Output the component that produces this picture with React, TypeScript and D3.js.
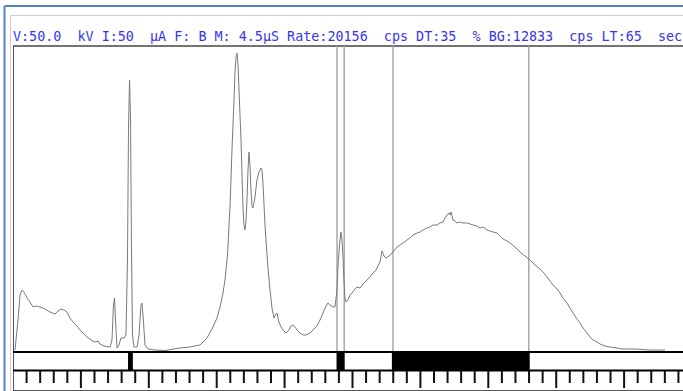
import React from "react";
import * as d3 from "d3";

const headerText =
  "V:50.0  kV I:50  \u00b5A F: B M: 4.5\u00b5S Rate:20156  cps DT:35  % BG:12833  cps LT:65  sec";

// Spectrum: energy (keV) and counts
const energy = [
  0.029, 0.074, 0.103, 0.133, 0.162, 0.206, 0.25, 0.295, 0.339, 0.398, 0.471, 0.545, 0.619, 0.663, 0.707,
  0.751, 0.795, 0.839, 0.884, 0.943, 0.987, 1.046, 1.09, 1.149, 1.208, 1.252, 1.281, 1.34, 1.429, 1.458,
  1.48, 1.495, 1.517, 1.532, 1.561, 1.59, 1.635, 1.664, 1.686, 1.701, 1.716, 1.731, 1.745, 1.76, 1.782,
  1.826, 1.856, 1.885, 1.9, 1.915, 1.944, 1.988, 2.091, 2.239, 2.459, 2.607, 2.754, 2.857, 2.945, 3.004,
  3.049, 3.093, 3.122, 3.152, 3.166, 3.181, 3.196, 3.21, 3.225, 3.24, 3.255, 3.269, 3.284, 3.299, 3.314,
  3.329, 3.343, 3.358, 3.373, 3.387, 3.402, 3.417, 3.431, 3.446, 3.461, 3.476, 3.49, 3.505, 3.52, 3.535,
  3.564, 3.593, 3.623, 3.652, 3.667, 3.682, 3.697, 3.711, 3.726, 3.755, 3.785, 3.814, 3.844, 3.873, 3.888,
  3.917, 3.947, 3.991, 4.021, 4.065, 4.094, 4.124, 4.153, 4.183, 4.227, 4.271, 4.315, 4.374, 4.433, 4.477,
  4.521, 4.565, 4.61, 4.639, 4.669, 4.713, 4.742, 4.772, 4.786, 4.808, 4.83, 4.845, 4.86, 4.874, 4.889,
  4.904, 4.933, 4.963, 4.993, 5.037, 5.066, 5.11, 5.155, 5.214, 5.258, 5.302, 5.346, 5.376, 5.405, 5.435,
  5.464, 5.494, 5.523, 5.552, 5.596, 5.655, 5.7, 5.744, 5.803, 5.847, 5.891, 5.95, 5.994, 6.038, 6.097,
  6.141, 6.186, 6.245, 6.289, 6.333, 6.362, 6.392, 6.421, 6.436, 6.451, 6.48, 6.51, 6.539, 6.583, 6.627,
  6.686, 6.731, 6.775, 6.833, 6.878, 6.922, 6.981, 7.025, 7.069, 7.128, 7.172, 7.217, 7.276, 7.32, 7.394,
  7.467, 7.541, 7.614, 7.688, 7.761, 7.806, 7.865, 7.909, 7.953, 8.012, 8.056, 8.1, 8.159, 8.203, 8.247,
  8.306, 8.351, 8.395, 8.454, 8.498, 8.542, 8.601, 8.645, 8.719, 8.792, 8.895, 8.984, 9.161, 9.382, 9.602,
];
const counts = [
  10, 310, 560, 610, 590, 530, 490, 440, 450, 440, 420, 390, 370, 400, 420,
  410, 390, 330, 290, 250, 210, 170, 140, 110, 90, 100, 70, 50, 40, 110,
  460, 530, 210, 30, 60, 130, 130, 160, 910, 2210, 2710, 2310, 1010, 160, 40,
  40, 160, 460, 480, 360, 60, 20, 10, 5, 30, 40, 60, 130, 240, 330,
  440, 580, 710, 910, 1040, 1260, 1440, 1710, 2010, 2260, 2510, 2780, 2930, 2980, 2860,
  2610, 2360, 2110, 1760, 1440, 1260, 1210, 1290, 1510, 1810, 1990, 1860, 1610, 1440, 1430,
  1540, 1710, 1790, 1830, 1810, 1680, 1460, 1260, 1110, 830, 610, 430, 330, 370, 380,
  290, 240, 200, 180, 210, 250, 260, 240, 210, 180, 160, 160, 180, 220, 250,
  310, 380, 450, 480, 460, 440, 440, 610, 840, 1060, 1190, 1110, 940, 710, 530,
  490, 510, 560, 580, 620, 640, 630, 670, 710, 740, 780, 810, 850, 890, 1000,
  950, 930, 940, 960, 990, 1040, 1060, 1080, 1110, 1130, 1160, 1180, 1190, 1210, 1230,
  1240, 1260, 1260, 1280, 1290, 1330, 1360, 1380, 1360, 1390, 1310, 1300, 1280, 1290, 1280,
  1280, 1270, 1260, 1250, 1230, 1240, 1210, 1200, 1190, 1180, 1150, 1120, 1100, 1080, 1040,
  990, 950, 910, 860, 820, 790, 740, 700, 660, 620, 580, 530, 480, 430, 380,
  320, 280, 230, 180, 140, 110, 90, 70, 50, 40, 30, 20, 20, 10, 10,
];

// Region-of-interest bands (keV)
const roiStart = [1.694, 4.765, 5.58];
const roiEnd = [1.765, 4.885, 7.61];
// Marker lines (keV)
const markerLines = [4.772, 4.878, 5.596, 7.596];

const W = 683;
const H = 391;
const plotLeft = 13;
const plotTop = 46;
const plotBottom = 351;

export default function App() {
  const x = d3.scaleLinear().domain([0, 670 / 67.9]).range([plotLeft, W]);
  const y = d3.scaleLinear().domain([0, 3050]).range([plotBottom, plotTop]);
  const data = energy.map((e, i) => [e, counts[i]] as [number, number]);
  const line = d3
    .line<[number, number]>()
    .x((d) => x(d[0]))
    .y((d) => y(d[1]));

  const minorTicks = d3.range(0.2, 9.9, 0.2).filter((t) => Math.abs(t - Math.round(t)) > 0.01);
  const majorTicks = d3.range(1, 10, 1);

  return (
    <svg
      width={W}
      height={H}
      style={{ position: "fixed", left: 0, top: 0, background: "#fff" }}
    >
      {/* outer window frame */}
      <line x1={4.5} y1={6} x2={W} y2={6} stroke="#5584c4" strokeWidth={2} />
      <line x1={4.5} y1={6} x2={4.5} y2={H} stroke="#5584c4" strokeWidth={2} />
      <line x1={10.5} y1={15.5} x2={W} y2={15.5} stroke="#cfcfcf" strokeWidth={1} />
      <line x1={10.5} y1={15.5} x2={10.5} y2={H} stroke="#cfcfcf" strokeWidth={1} />

      <text
        x={13}
        y={41}
        fill="#3636e8"
        style={{ fontFamily: "'DejaVu Sans Mono', monospace", fontSize: "13.4px", whiteSpace: "pre" }}
        xmlSpace="preserve"
      >
        {headerText}
      </text>

      {/* plot frame */}
      <line x1={plotLeft} y1={plotTop} x2={W} y2={plotTop} stroke="#444" strokeWidth={1.5} />
      <line x1={plotLeft + 0.5} y1={plotTop} x2={plotLeft + 0.5} y2={H} stroke="#555" strokeWidth={1} />

      {/* marker lines */}
      {markerLines.map((m, i) => (
        <line key={i} x1={x(m)} y1={plotTop} x2={x(m)} y2={plotBottom} stroke="#a8a8a8" strokeWidth={1.5} />
      ))}

      {/* spectrum */}
      <path d={line(data) || ""} fill="none" stroke="#7a7a7a" strokeWidth={1} />

      {/* ROI band */}
      {roiStart.map((s, i) => (
        <rect key={i} x={x(s)} y={352} width={x(roiEnd[i]) - x(s)} height={18} fill="#000" />
      ))}
      <line x1={plotLeft} y1={352} x2={W} y2={352} stroke="#000" strokeWidth={2} />
      <line x1={plotLeft} y1={370.5} x2={W} y2={370.5} stroke="#000" strokeWidth={2} />

      {/* energy scale ticks */}
      {minorTicks.map((t, i) => (
        <line key={"m" + i} x1={x(t)} y1={371} x2={x(t)} y2={383} stroke="#111" strokeWidth={2} />
      ))}
      {majorTicks.map((t, i) => (
        <line key={"M" + i} x1={x(t)} y1={371} x2={x(t)} y2={388} stroke="#111" strokeWidth={2} />
      ))}
      <line x1={plotLeft} y1={390.5} x2={W} y2={390.5} stroke="#555" strokeWidth={1} />
    </svg>
  );
}
